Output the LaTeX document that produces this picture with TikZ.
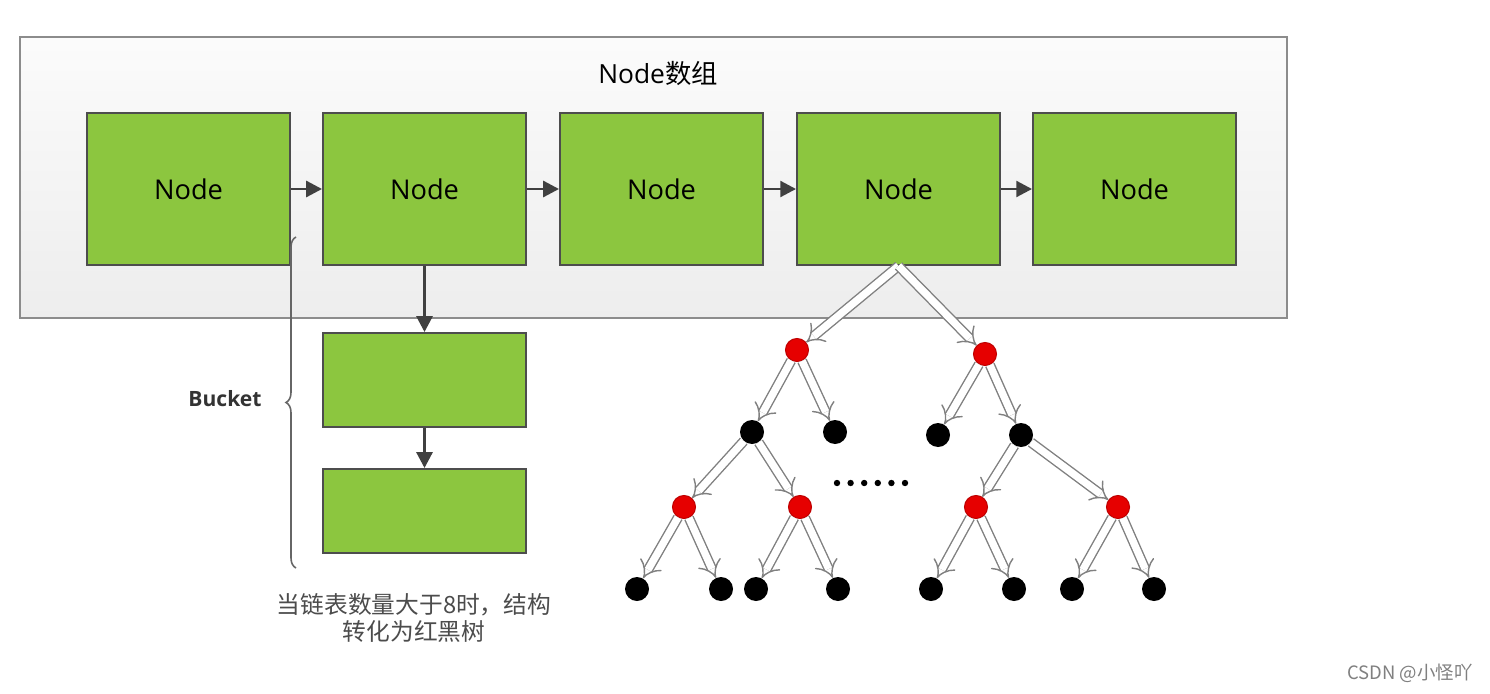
\documentclass[tikz,border=0pt]{standalone}
\usepackage{fontspec}
\setmainfont{Open Sans}
\newfontfamily\cjk{Noto Sans CJK SC}
\usetikzlibrary{arrows.meta,decorations.pathreplacing}
\definecolor{boxgreen}{HTML}{8CC63F}
\definecolor{boxedge}{HTML}{4D4D4D}
\definecolor{arrowgray}{HTML}{404040}
\definecolor{treered}{HTML}{E60000}

\begin{document}
\begin{tikzpicture}[x=0.02cm, y=-0.02cm,
  frame/.style={rectangle, draw=gray!90, line width=1.1pt, top color=gray!3, bottom color=gray!14, minimum width=25.34cm, minimum height=5.62cm},
  nodebox/.style={rectangle, draw=boxedge, line width=1.1pt, fill=boxgreen, minimum width=4.06cm, minimum height=3.04cm, font=\fontsize{15.5}{18}\selectfont},
  bucketbox/.style={rectangle, draw=boxedge, line width=1.1pt, fill=boxgreen, minimum width=4.06cm},
  rednode/.style={circle, fill=treered, draw=red!75!black, line width=0.6pt, minimum size=0.46cm, inner sep=0pt},
  blacknode/.style={circle, fill=black, minimum size=0.48cm, inner sep=0pt},
  link/.style={-{Triangle[length=9pt,width=9pt]}, draw=arrowgray, line width=1.7pt},
  treelink/.style={-{Implies}, draw=gray, double=white, double distance=4.2pt, line width=0.8pt},
]
\useasboundingbox (0,0) rectangle (1490,693);
\fill[white] (0,0) rectangle (1490,693);

% the array
\node[frame] (array) at (653.5,177.5) {};
\node[font=\fontsize{15}{18}\selectfont] (title) at (658,74) {Node{\cjk 数组}};

\node[nodebox] (n1) at (188.5,189) {Node};
\node[nodebox] (n2) at (424.5,189) {Node};
\node[nodebox] (n3) at (661.5,189) {Node};
\node[nodebox] (n4) at (898.5,189) {Node};
\node[nodebox] (n5) at (1134.5,189) {Node};

\draw[link] (n1) -- (n2);
\draw[link] (n2) -- (n3);
\draw[link] (n3) -- (n4);
\draw[link] (n4) -- (n5);

% the bucket
\node[bucketbox, minimum height=1.88cm] (b1) at (424.5,380) {};
\node[bucketbox, minimum height=1.68cm] (b2) at (424.5,511) {};
\draw[link] (n2) -- (b1);
\draw[link] (b1) -- (b2);

\coordinate (brtop) at (296,237);
\coordinate (brbot) at (296,568);
\draw[gray!80!black, line width=0.9pt, decorate, decoration={brace, amplitude=0.2cm}] (brbot) -- (brtop);
\node[font=\bfseries\fontsize{12}{14}\selectfont, text=black!80] (bucket) at (225,399) {Bucket};

\node[font=\cjk\fontsize{13.5}{15.5}\selectfont, text=black!70, align=center] (note) at (414,618) {当链表数量大于8时，结构\\转化为红黑树};

% the red-black tree
\node[rednode] (r1) at (797,350) {};
\node[rednode] (r2) at (985,354) {};
\node[blacknode] (k1) at (752,432) {};
\node[blacknode] (k2) at (835,432) {};
\node[blacknode] (k3) at (938,435) {};
\node[blacknode] (k4) at (1021,435) {};
\node[rednode] (r3) at (684,507) {};
\node[rednode] (r4) at (800,507) {};
\node[rednode] (r5) at (976,507) {};
\node[rednode] (r6) at (1118,507) {};
\node[blacknode] (l1) at (637,589) {};
\node[blacknode] (l2) at (721,589) {};
\node[blacknode] (l3) at (756,589) {};
\node[blacknode] (l4) at (838,589) {};
\node[blacknode] (l5) at (931,589) {};
\node[blacknode] (l6) at (1014,589) {};
\node[blacknode] (l7) at (1072,589) {};
\node[blacknode] (l8) at (1154,589) {};

\draw[treelink] (n4.south) -- (r1);
\draw[treelink] (n4.south) -- (r2);
\draw[treelink] (r1) -- (k1);
\draw[treelink] (r1) -- (k2);
\draw[treelink] (r2) -- (k3);
\draw[treelink] (r2) -- (k4);
\draw[treelink] (k1) -- (r3);
\draw[treelink] (k1) -- (r4);
\draw[treelink] (k4) -- (r5);
\draw[treelink] (k4) -- (r6);
\draw[treelink] (r3) -- (l1);
\draw[treelink] (r3) -- (l2);
\draw[treelink] (r4) -- (l3);
\draw[treelink] (r4) -- (l4);
\draw[treelink] (r5) -- (l5);
\draw[treelink] (r5) -- (l6);
\draw[treelink] (r6) -- (l7);
\draw[treelink] (r6) -- (l8);

\foreach \i in {0,...,5}
  \fill (837+\i*13.6,483) circle (3.2);

\node[font=\cjk\fontsize{10.5}{12}\selectfont, text=gray] (mark) at (1410,673) {CSDN @小怪吖};
\end{tikzpicture}
\end{document}
